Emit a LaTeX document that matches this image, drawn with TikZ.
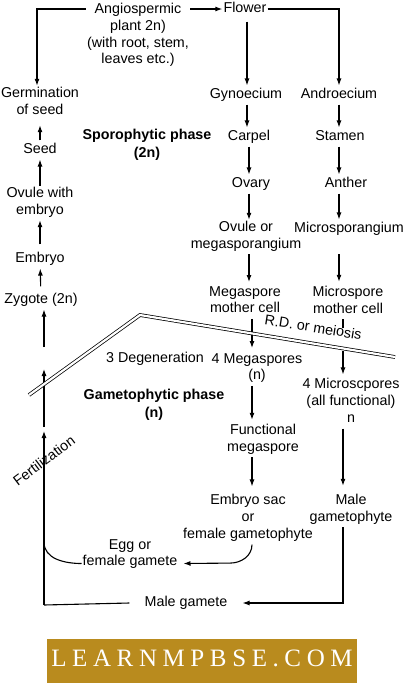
\documentclass[tikz,border=0pt]{standalone}
\usepackage{fontspec}
\setmainfont{Liberation Sans}
\newfontfamily\bannerfont{Liberation Serif}
\usetikzlibrary{arrows.meta}
\definecolor{gold}{RGB}{185,139,30}
\newcommand\lsp{\kern5.6pt}
\begin{document}
\begin{tikzpicture}[x=1pt,y=-1pt,
  every node/.style={font=\fontsize{14.3}{16.7}\selectfont, inner xsep=1pt, inner ysep=1pt, align=center,
    yshift=-2pt, execute at begin node=\strut, execute at end node=\strut},
  phase/.style={font=\fontsize{14.3}{17.5}\selectfont\bfseries},
  arr/.style={-{Latex[length=7pt,width=5pt]}, line width=1.1pt},
  ln/.style={line width=1.1pt}]
\useasboundingbox (0,0) rectangle (414,686);

% column coordinates
\coordinate (l0) at (37,0);
\coordinate (m1) at (247,0);
\coordinate (m2) at (249,0);
\coordinate (m3) at (252,0);
\coordinate (r1) at (339,0);
\coordinate (r2) at (343,0);

% nodes
\node (plant) at (138,34) {Angiospermic\\plant 2n)\\(with root, stem,\\leaves etc.)};
\node (flower) at (245,7) {Flower};
\node (germ) at (40,101) {Germination\\of seed};
\node (gyn) at (246,93) {Gynoecium};
\node (andr) at (339,93) {Androecium};
\node[phase] (sporo) at (147,144) {Sporophytic phase\\(2n)};
\node (carpel) at (249,135) {Carpel};
\node (stamen) at (340,135) {Stamen};
\node (seed) at (40,148) {Seed};
\node (ovary) at (251,182) {Ovary};
\node (anther) at (346,182) {Anther};
\node (ovw) at (40,201) {Ovule with\\embryo};
\node (ovule) at (246,235) {Ovule or\\megasporangium};
\node (micro) at (349,227) {Microsporangium};
\node (embryo) at (40,257) {Embryo};
\node (mmc) at (245,300) {Megaspore\\mother cell};
\node (mimc) at (348,300) {Microspore\\mother cell};
\node (zygote) at (41,298) {Zygote (2n)};
\node (degen) at (155,357) {3 Degeneration};
\node (megas) at (257,367) {4 Megaspores\\(n)};
\node (micros) at (351,401) {4 Microscpores\\(all functional)\\n};
\node[phase] (gameto) at (154,404) {Gametophytic phase\\(n)};
\node (func) at (263,438) {Functional\\megaspore};
\node (esac) at (248,517) {Embryo sac\\or\\female gametophyte};
\node (malegph) at (351,508) {Male\\gametophyte};
\node (egg) at (130,553) {Egg or\\female gamete};
\node[inner xsep=15pt] (malegam) at (186,601) {Male gamete};
\node[rotate=37] (fert) at (45,460) {Fertilization};
\node[rotate=-9] (rd) at (313,327) {R.D. or meiosis};

% left-side free coordinates
\coordinate (L1) at (44,345);
\coordinate (L2) at (44,367);
\coordinate (L3) at (44,425);
\coordinate (L4) at (44,429);
\coordinate (LB) at (44,603);
\coordinate (ej) at (44,540);
\coordinate (mx) at (343,349);

% top connectors
\draw[arr] (plant.west |- flower) -| (germ.north -| l0);
\draw[arr] (plant.east |- flower) -- (flower.west);
\draw[arr] (flower.east) -| (andr.north -| r1);

% female column
\draw[arr,shorten <=3pt] (flower.south -| m1) -- (gyn.north -| m1);
\draw[arr] (gyn.south -| m1) -- (carpel.north -| m1);
\draw[arr] (carpel.south -| m2) -- (ovary.north -| m2);
\draw[arr] (ovary.south -| m2) -- (ovule.north -| m2);
\draw[arr,shorten >=3pt] (ovule.south -| m2) -- (mmc.north -| m2);
\draw[arr,shorten >=4pt] (mmc.south -| m3) -- (megas.north -| m3);
\draw[arr,shorten >=3pt] (megas.south -| m3) -- (func.north -| m3);
\draw[arr,shorten >=7pt] (func.south -| m3) -- (esac.north -| m3);

% male column
\draw[arr] (andr.south -| r1) -- (stamen.north -| r1);
\draw[arr] (stamen.south -| r1) -- (anther.north -| r1);
\draw[arr] (anther.south -| r1) -- (micro.north -| r1);
\draw[arr,shorten >=3pt] (ovule.south -| r1) -- (mimc.north -| r1);
\draw[ln] (mimc.south -| r2) -- ++(0,9);
\draw[arr,shorten >=3pt] (mx) -- (micros.north -| mx);
\draw[arr,shorten >=7pt] (micros.south -| r2) -- (malegph.north -| r2);
\draw[arr] (malegph.south -| r2) |- (malegam.east);

% left column (upwards)
\draw[arr,shorten >=5pt] (seed) -- (germ);
\draw[arr] (ovw) -- (seed);
\draw[arr,shorten <=5pt] (embryo) -- (ovw);
\draw[arr,shorten <=4pt] (zygote) -- (embryo);
\draw[arr] (L1) -- (zygote.south -| L1);
\draw[arr] (L3) -- (L2);
\draw[arr] (LB) -- (L4);
\draw[ln] (LB) -- (malegam.west);

% egg connectors
\draw[ln] (ej) to[out=-90,in=180] ([yshift=-8.5pt]egg.west);
\draw[arr] ([xshift=4pt]esac.south) to[out=-90,in=0] ++(-22,18.5) -- ([yshift=-8.5pt,xshift=5pt]egg.east);

% phase boundary (double line)
\coordinate (b1) at (29,393);
\coordinate (b2) at (140,313);
\coordinate (b3) at (395,355);
\draw[line width=0.75pt, double distance=2.2pt, line join=miter] (b1) -- (b2) -- (b3);

% banner
\node[fill=gold, text=white, minimum width=310pt, minimum height=44pt, inner sep=0pt,
  font=\bannerfont\fontsize{25}{25}\selectfont,
  execute at begin node={}, execute at end node={}] (banner) at (202,659)
  {L\lsp E\lsp A\lsp R\lsp N\lsp M\lsp P\lsp B\lsp S\lsp E\lsp .\lsp C\lsp O\lsp M};
\end{tikzpicture}
\end{document}
